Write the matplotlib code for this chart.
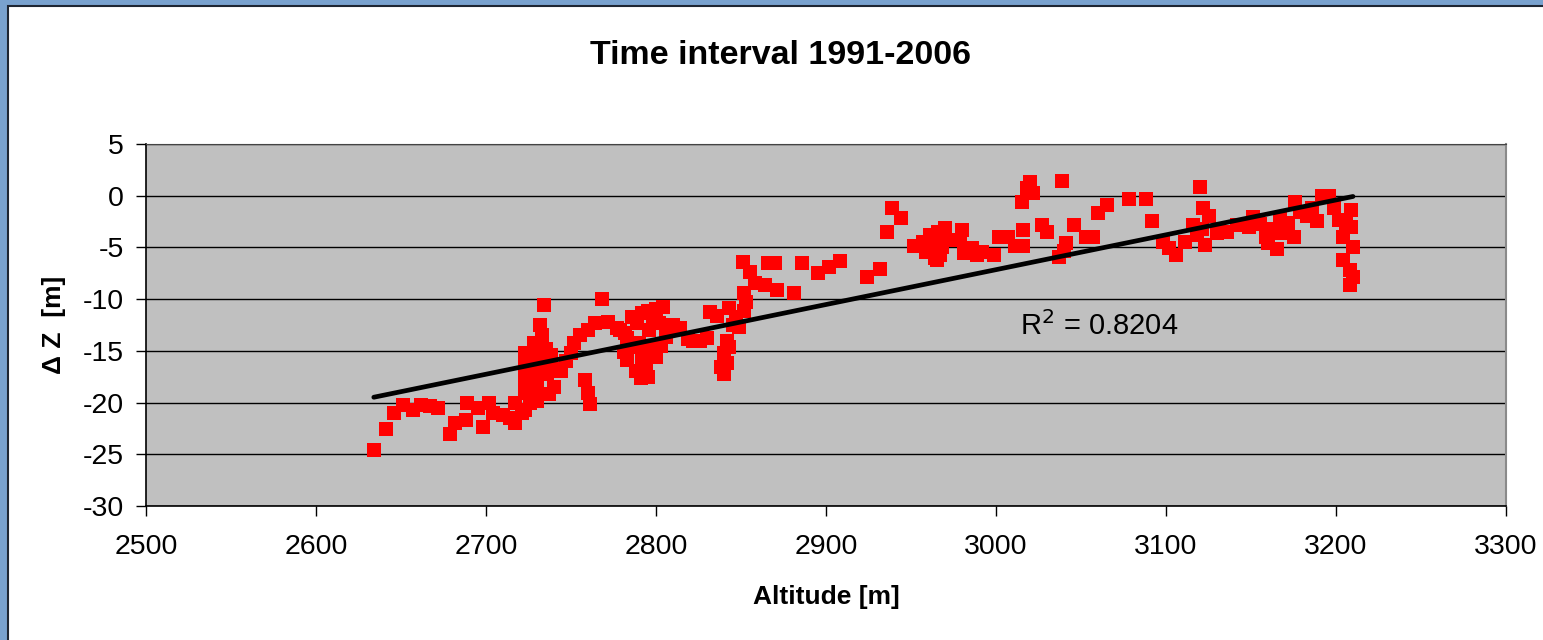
import matplotlib
matplotlib.use("Agg")
import matplotlib.pyplot as plt
from matplotlib.patches import Rectangle
import numpy as np

plt.rcParams['font.family'] = ['Liberation Sans', 'DejaVu Sans']
plt.rcParams['axes.unicode_minus'] = False

# data: altitude [m] and elevation change dZ [m]
altitude = [
    2634, 2641, 2646, 2651, 2657, 2662, 2667, 2672, 2679, 2682, 2688, 2689,
    2695, 2698, 2702, 2704, 2710, 2714, 2717, 2717,
    2721, 2723, 2723, 2723, 2723, 2723, 2725, 2726, 2727, 2728, 2729, 2730,
    2730, 2731, 2732, 2733, 2734, 2734, 2735, 2736, 2737, 2738, 2740, 2740,
    2744, 2747, 2750, 2752, 2755, 2758, 2760, 2760, 2761, 2764, 2768, 2772,
    2777, 2779, 2782, 2783, 2781, 2783, 2786, 2786, 2788, 2789, 2789, 2791,
    2792, 2792, 2795, 2795, 2796, 2796, 2800, 2802, 2804, 2806, 2798, 2794,
    2790, 2800, 2803,
    2810, 2814, 2819, 2822, 2826, 2830, 2832, 2836, 2838, 2840, 2840, 2842,
    2842, 2843, 2843, 2845, 2847, 2849, 2852, 2853, 2852, 2851, 2855, 2858,
    2864, 2866, 2870, 2871, 2881, 2886, 2895, 2902, 2908,
    2924, 2932, 2936, 2939, 2944, 2952, 2957, 2959, 2961, 2963, 2964, 2965,
    2966, 2967, 2968, 2970, 2971, 2979, 2980, 2981, 2986, 2989, 2992, 2999,
    3002, 3007, 3011, 3016, 3016, 3015, 3018, 3020, 3022, 3027, 3030, 3037,
    3040, 3039, 3041, 3046, 3053, 3057, 3060, 3065, 3078, 3088, 3092,
    3098, 3102, 3106, 3111, 3116, 3118, 3120, 3122, 3123, 3121, 3125, 3130,
    3136, 3142, 3149, 3151, 3155, 3159, 3160, 3162, 3165, 3167, 3167, 3170,
    3172, 3175, 3176, 3179, 3183, 3186, 3189, 3192, 3196, 3199, 3202, 3204,
    3204, 3206, 3208, 3208, 3209, 3209, 3210, 3210,
]
delta_z = [
    -24.6, -22.6, -21.0, -20.2, -20.7, -20.2, -20.3, -20.5, -23.0, -22.0, -21.7, -20.0,
    -20.5, -22.4, -20.0, -21.0, -21.2, -21.5, -22.0, -20.0,
    -21.0, -20.7, -19.1, -17.8, -16.5, -15.2, -18.5, -20.0, -16.2, -14.2, -17.5, -18.5,
    -19.8, -15.5, -12.5, -13.5, -10.6, -16.2, -14.8, -17.2, -19.2, -15.4, -18.5, -16.8,
    -16.9, -16.0, -15.2, -14.2, -13.5, -17.8, -13.0, -19.1, -20.1, -12.3, -10.0, -12.2,
    -12.8, -13.0, -13.3, -13.8, -15.1, -15.9, -11.7, -14.6, -16.9, -12.3, -16.9, -17.6,
    -11.3, -15.6, -11.1, -17.5, -13.0, -14.6, -15.6, -12.3, -10.8, -13.7, -11.8, -16.5,
    -14.2, -11.0, -14.5,
    -12.5, -12.8, -13.9, -14.0, -14.0, -13.8, -11.2, -11.6, -16.6, -15.2, -17.2, -14.0,
    -16.2, -14.6, -10.9, -12.5, -11.7, -12.7, -11.1, -10.3, -9.4, -6.4, -7.4, -8.4,
    -8.6, -6.5, -6.5, -9.1, -9.4, -6.5, -7.5, -6.9, -6.3,
    -7.9, -7.1, -3.5, -1.2, -2.2, -4.9, -4.5, -5.4, -3.8, -4.8, -6.0, -6.2,
    -3.5, -5.7, -5.0, -3.1, -4.3, -4.3, -3.3, -5.5, -5.1, -5.7, -5.4, -5.7,
    -4.0, -4.0, -4.9, -4.9, -3.3, -0.6, 0.7, 1.3, 0.3, -2.8, -3.5, -5.9,
    -5.3, 1.4, -4.6, -2.8, -4.0, -4.0, -1.7, -0.9, -0.3, -0.3, -2.4,
    -4.5, -5.1, -5.7, -4.5, -2.8, -3.8, 0.8, -1.2, -4.8, -3.2, -2.0, -3.6,
    -3.5, -2.8, -3.0, -2.1, -2.7, -4.0, -4.6, -3.2, -5.2, -3.6, -2.2, -3.0,
    -2.6, -4.0, -0.6, -1.6, -2.0, -1.2, -2.4, 0.0, 0.0, -1.2, -2.3, -4.0,
    -6.2, -2.6, -7.2, -8.6, -1.4, -3.0, -5.0, -7.9,
]

# linear trend (Excel trendline)
trend_coef = [0.0337, -108.25]
r_squared = 0.8204

x_ticks = list(range(2500, 3301, 100))
y_ticks = list(range(-30, 6, 5))

fig = plt.figure(figsize=(15.43, 6.4), dpi=100)
fig.patch.set_facecolor('#79a2cf')
fig.add_artist(Rectangle((8 / 1543, -0.01), 1.0, 1 - 6 / 640 + 0.01,
                         transform=fig.transFigure, facecolor='white',
                         edgecolor='#1e2633', linewidth=1.5, zorder=-1))

ax = fig.add_axes([146 / 1543, 1 - 506 / 640, 1360 / 1543, 362 / 640])
ax.set_facecolor('#c0c0c0')

ax.plot(altitude, delta_z, linestyle='none', marker='s', markersize=10.5,
        color='#ff0000', markeredgewidth=0, zorder=3)

xt = np.array([min(altitude), max(altitude)])
ax.plot(xt, np.polyval(trend_coef, xt), color='black', linewidth=3.4,
        solid_capstyle='round', zorder=4)

ax.text(3061, -12.6, 'R$^2$ = %.4f' % r_squared, fontsize=21, ha='center',
        va='center', zorder=5)

ax.set_xlim(2500, 3300)
ax.set_ylim(-30, 5)
ax.set_xticks(x_ticks)
ax.set_yticks(y_ticks)
ax.tick_params(direction='out', length=7, width=1, labelsize=20.5)
ax.tick_params(axis='x', pad=13)
ax.tick_params(axis='y', pad=9)
ax.yaxis.grid(True, color='black', linewidth=1)
ax.set_axisbelow(True)
for side in ['left', 'bottom']:
    ax.spines[side].set_color('black')
    ax.spines[side].set_linewidth(1.2)
ax.spines['top'].set_color('#444444')
ax.spines['right'].set_color('#8a8a8a')
ax.spines['right'].set_linewidth(1.5)

ax.set_xlabel('Altitude [m]', fontsize=19, fontweight='bold', labelpad=18)
ax.set_ylabel('Δ Z  [m]', fontsize=19, fontweight='bold', labelpad=12)
fig.text(780 / 1543, 1 - 55 / 640, 'Time interval 1991-2006', fontsize=24.5,
         fontweight='bold', ha='center', va='center')

fig.savefig('out.png', dpi=100, facecolor=fig.get_facecolor())
